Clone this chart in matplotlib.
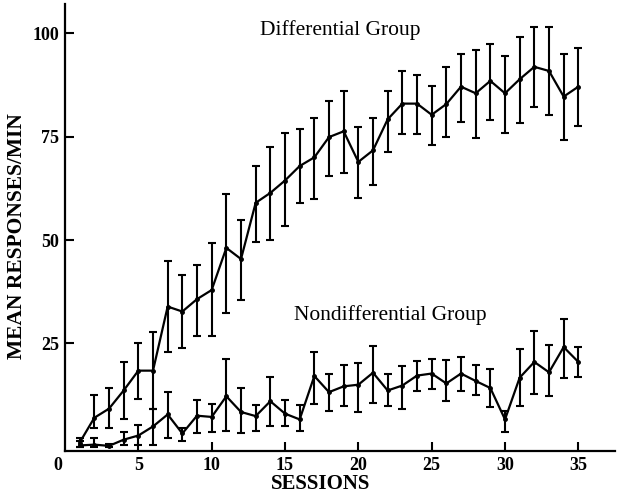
import matplotlib
matplotlib.use("Agg")
import matplotlib.pyplot as plt
import matplotlib.transforms as mtransforms
import numpy as np

sessions = list(range(1, 36))

diff_mean = [1.0, 7.0, 9.2, 13.6, 18.4, 18.4, 33.9, 32.7, 35.7, 37.9,
             48.1, 45.4, 59.0, 61.4, 64.4, 67.9, 70.0, 74.9, 76.3, 68.9,
             71.7, 79.2, 83.0, 83.0, 80.3, 82.9, 87.1, 85.5, 88.5, 85.5,
             88.9, 91.9, 90.9, 84.7, 87.1]
diff_upper = [2.0, 12.4, 14.2, 20.6, 25.0, 27.7, 45.0, 41.5, 43.9, 49.3,
              61.1, 54.9, 68.0, 72.6, 76.0, 76.9, 79.5, 83.7, 86.0, 77.3,
              79.4, 86.0, 90.8, 90.0, 87.3, 91.9, 95.1, 95.9, 97.4, 94.6,
              99.0, 101.5, 101.5, 95.1, 96.4]
diff_lower = [0.0, 4.5, 4.5, 6.8, 11.6, 9.2, 22.8, 23.9, 26.8, 26.7,
              32.3, 35.5, 49.6, 50.1, 53.3, 59.0, 60.0, 65.5, 66.3, 60.1,
              63.3, 71.2, 75.7, 75.7, 73.1, 74.9, 78.6, 74.8, 79.0, 76.0,
              78.2, 82.1, 80.2, 74.3, 77.7]

nond_mean = [0.3, 0.5, 0.2, 1.7, 2.7, 4.9, 7.8, 3.2, 7.5, 7.2,
             12.2, 8.4, 7.4, 11.0, 8.0, 6.6, 17.1, 13.2, 14.6, 15.0,
             17.9, 13.6, 14.8, 17.2, 17.7, 15.3, 17.7, 15.9, 14.2, 6.6,
             16.7, 20.5, 18.0, 24.1, 20.5]
nond_upper = [1.5, 2.0, 0.6, 3.5, 5.2, 9.1, 13.2, 4.5, 11.2, 10.4,
              21.1, 14.2, 10.2, 16.8, 11.4, 10.0, 23.0, 17.5, 19.7, 20.3,
              24.3, 17.6, 19.5, 20.7, 21.3, 20.9, 21.8, 19.7, 18.7, 8.6,
              23.7, 28.0, 24.5, 30.8, 24.1]
nond_lower = [0.0, 0.0, 0.0, 0.5, 0.5, 0.5, 2.1, 1.3, 3.3, 3.5,
              3.7, 3.4, 3.7, 4.9, 4.9, 3.7, 10.4, 8.6, 9.8, 8.4,
              10.6, 9.8, 9.2, 13.4, 14.0, 11.0, 13.4, 12.4, 9.6, 3.6,
              9.8, 12.8, 12.2, 16.7, 16.8]

x_ticks = [0, 5, 10, 15, 20, 25, 30, 35]
y_ticks = [25, 50, 75, 100]

serif = ["Liberation Serif", "DejaVu Serif"]

fig = plt.figure(figsize=(6.18, 4.97), dpi=100)
ax = fig.add_axes([65 / 618, 46 / 497, 550 / 618, 447 / 497])

def draw(mean, upper, lower):
    m = np.array(mean)
    yerr = [m - np.array(lower), np.array(upper) - m]
    ax.errorbar(sessions, m, yerr=yerr, color="black", lw=1.6,
                elinewidth=1.5, capsize=2.6, capthick=1.5,
                marker="o", markersize=2.5)

draw(diff_mean, diff_upper, diff_lower)
draw(nond_mean, nond_upper, nond_lower)

ax.set_xlim(0, 37.5)
ax.set_ylim(-1.04, 107.1)
for s in ["top", "right"]:
    ax.spines[s].set_visible(False)
for s in ["left", "bottom"]:
    ax.spines[s].set_linewidth(1.6)

ax.set_xticks(x_ticks)
ax.set_xticklabels([str(t) for t in x_ticks])
ax.set_yticks(y_ticks)
ax.set_yticklabels([str(t) for t in y_ticks])
ax.tick_params(direction="in", length=6.5, width=1.5, pad=4)
ax.xaxis.get_major_ticks()[0].tick1line.set_visible(False)
for lab in ax.get_xticklabels() + ax.get_yticklabels():
    lab.set_family(serif)
    lab.set_fontweight("bold")
    lab.set_fontsize(13)
zero_lab = ax.get_xticklabels()[0]
zero_lab.set_transform(zero_lab.get_transform() +
                       mtransforms.ScaledTranslation(-7 / 100, 0, fig.dpi_scale_trans))

fig.text(17 / 618, 1 - 236 / 497, "MEAN RESPONSES/MIN", family=serif,
         fontweight="bold", fontsize=15.5, rotation=90,
         ha="center", va="center")
fig.text(321 / 618, 1 - 484 / 497, "SESSIONS", family=serif,
         fontweight="bold", fontsize=15, ha="center", va="center")

fig.text(340 / 618, 1 - 30 / 497, "Differential Group", family=serif,
         fontsize=15.5, ha="center", va="center")
fig.text(390 / 618, 1 - 315 / 497, "Nondifferential Group", family=serif,
         fontsize=15.5, ha="center", va="center")

fig.savefig("out.png", dpi=100)
